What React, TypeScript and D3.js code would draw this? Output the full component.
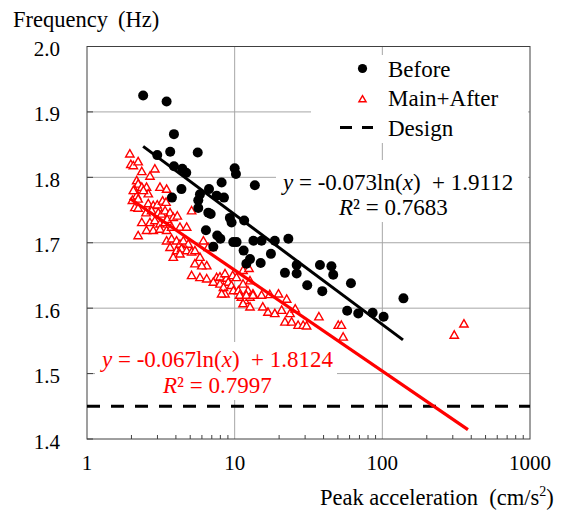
import React from "react";
import * as d3 from "d3";

// peak acceleration (cm/s2), frequency (Hz)
const before: [number, number][] = [
  [2.4, 1.925], [3.46, 1.916], [3.88, 1.866], [2.99, 1.834], [3.66, 1.839],
  [5.62, 1.838], [3.88, 1.817], [4.42, 1.813], [4.7, 1.807], [4.36, 1.782],
  [3.76, 1.769], [5.82, 1.774], [6.7, 1.782], [8.16, 1.792], [7.55, 1.772],
  [10.0, 1.814], [10.2, 1.805], [13.7, 1.788], [5.67, 1.765], [8.46, 1.769],
  [5.67, 1.753], [6.63, 1.746], [6.88, 1.744], [9.28, 1.738], [9.53, 1.731],
  [11.6, 1.734], [6.39, 1.719], [7.62, 1.711], [8.0, 1.706], [9.78, 1.701],
  [10.3, 1.701], [13.4, 1.703], [15.2, 1.703], [18.7, 1.703], [23.1, 1.706],
  [7.17, 1.694], [11.5, 1.688], [17.6, 1.683], [12.7, 1.675], [12.0, 1.668],
  [15.0, 1.669], [21.9, 1.654], [26.3, 1.666], [26.3, 1.653], [37.8, 1.666],
  [45.2, 1.664], [46.5, 1.651], [61.3, 1.638], [31.0, 1.635], [39.2, 1.626],
  [139, 1.615], [57.8, 1.596], [68.7, 1.592], [86.0, 1.593], [102, 1.587],
];

const mainAfter: [number, number][] = [
  [1.95, 1.836], [1.98, 1.82], [2.06, 1.818], [2.22, 1.824], [2.35, 1.809],
  [2.88, 1.813], [2.67, 1.802], [2.17, 1.795], [2.22, 1.79], [2.35, 1.785],
  [2.53, 1.785], [2.6, 1.775], [2.11, 1.78], [2.17, 1.772], [3.12, 1.785],
  [3.46, 1.782], [2.06, 1.78], [2.41, 1.78], [2.03, 1.765], [2.22, 1.767],
  [2.11, 1.754], [2.22, 1.753], [2.6, 1.76], [2.81, 1.757], [2.99, 1.758],
  [3.25, 1.764], [3.43, 1.762], [2.51, 1.746], [2.74, 1.749], [3.04, 1.746],
  [3.2, 1.744], [3.38, 1.749], [3.65, 1.746], [2.35, 1.731], [2.67, 1.731],
  [2.88, 1.734], [3.12, 1.729], [3.38, 1.731], [3.49, 1.736], [3.84, 1.739],
  [4.09, 1.741], [2.53, 1.719], [2.81, 1.719], [3.12, 1.721], [3.46, 1.719],
  [3.74, 1.724], [4.26, 1.724], [4.73, 1.724], [2.22, 1.711], [3.46, 1.703],
  [3.74, 1.706], [4.04, 1.703], [4.26, 1.698], [4.49, 1.703], [4.85, 1.698],
  [3.65, 1.693], [4.04, 1.688], [4.36, 1.691], [4.73, 1.688], [5.11, 1.686],
  [3.84, 1.678], [4.26, 1.683], [5.38, 1.688], [5.82, 1.678], [5.38, 1.668],
  [6.47, 1.665], [5.99, 1.665], [6.98, 1.693], [6.14, 1.703], [6.6, 1.693],
  [5.11, 1.749], [5.11, 1.65], [5.82, 1.647], [6.47, 1.645], [7.55, 1.647],
  [7.95, 1.648], [8.82, 1.646], [7.17, 1.64], [7.95, 1.637], [9.05, 1.64],
  [8.4, 1.632], [8.6, 1.622], [9.5, 1.635], [9.8, 1.627], [10.6, 1.627],
  [11.4, 1.637], [12.3, 1.627], [12.7, 1.642], [11.1, 1.617], [11.7, 1.612],
  [12.7, 1.617], [13.3, 1.622], [11.4, 1.607], [12.7, 1.602], [8.16, 1.622],
  [8.6, 1.653], [9.7, 1.65], [11.4, 1.658], [12.5, 1.661], [10.3, 1.647],
  [10.8, 1.62], [12.0, 1.62], [13.3, 1.62], [15.2, 1.62], [17.3, 1.621],
  [19.8, 1.622], [22.5, 1.614], [16.8, 1.594], [18.7, 1.592], [20.8, 1.597],
  [23.7, 1.592], [25.7, 1.599], [15.5, 1.602], [21.9, 1.579], [24.3, 1.579],
  [26.9, 1.574], [29.1, 1.574], [30.7, 1.573], [37.2, 1.587], [50.3, 1.574],
  [52.8, 1.574], [54.3, 1.556], [357, 1.576], [307, 1.559],
];

// y = slope * ln(x) + icpt, drawn between x0 and x1
const fitBefore = { slope: -0.073, icpt: 1.9112, x0: 2.4, x1: 138 };
const fitAfter = { slope: -0.067, icpt: 1.8124, x0: 1.95, x1: 380 };
const designFreq = 1.45;

const xTicks = [1, 10, 100, 1000];
const yTicks = [1.4, 1.5, 1.6, 1.7, 1.8, 1.9, 2.0];
const legendLabels = ["Before", "Main+After", "Design"];

const RED = "#ff0000";
const FONT = "'Liberation Serif', 'Times New Roman', serif";
const pre = { whiteSpace: "pre" as const };

export default function App() {
  const width = 562;
  const height = 510;
  const left = 87, right = 530, top = 46.5, bottom = 439;

  const x = d3.scaleLog().domain([1, 1000]).range([left, right]);
  const y = d3.scaleLinear().domain([1.4, 2.0]).range([bottom, top]);

  const fitLine = (f) =>
    d3.line<number>()
      .x((d) => x(d))
      .y((d) => y(f.slope * Math.log(d) + f.icpt))([f.x0, f.x1]);

  const minor = x.ticks().filter((t) => !xTicks.includes(t));
  const tri = "M0,-4.2 L4.2,3.2 L-4.2,3.2 Z";

  return (
    <svg
      width={width}
      height={height}
      style={{ position: "absolute", left: 0, top: 0, background: "#fff" }}
      fontFamily={FONT}
    >
      {/* grid */}
      {xTicks.slice(1, -1).map((t) => (
        <line key={"gx" + t} x1={x(t)} x2={x(t)} y1={top} y2={bottom} stroke="#a6a6a6" />
      ))}
      {yTicks.slice(1, -1).map((t) => (
        <line key={"gy" + t} x1={left} x2={right} y1={y(t)} y2={y(t)} stroke="#a6a6a6" />
      ))}

      {/* white boxes behind texts */}
      <rect x={311} y={55} width={217} height={88} fill="#fff" />
      <rect x={276} y={160} width={252} height={62} fill="#fff" />
      <rect x={95} y={342} width={242} height={58} fill="#fff" />

      {/* ticks */}
      {minor.map((t) => (
        <line key={"mx" + t} x1={x(t)} x2={x(t)} y1={bottom} y2={bottom - 4} stroke="#404040" />
      ))}
      {yTicks.map((t) => (
        <line key={"ty" + t} x1={left} x2={left + 6} y1={y(t)} y2={y(t)} stroke="#404040" />
      ))}
      <rect x={left} y={top} width={right - left} height={bottom - top} fill="none" stroke="#404040" />

      {/* design line */}
      <line x1={left} x2={right} y1={y(designFreq)} y2={y(designFreq)}
        stroke="#000" strokeWidth={3} strokeDasharray="13 11" />

      {/* data */}
      {mainAfter.map((d, i) => (
        <path key={"a" + i} d={tri} transform={`translate(${x(d[0])},${y(d[1])})`}
          fill="#fff" stroke={RED} strokeWidth={1.4} />
      ))}
      {before.map((d, i) => (
        <circle key={"b" + i} cx={x(d[0])} cy={y(d[1])} r={5} fill="#000" />
      ))}

      <path d={fitLine(fitAfter)} stroke={RED} strokeWidth={3.2} fill="none" />
      <path d={fitLine(fitBefore)} stroke="#000" strokeWidth={3} fill="none" />

      {/* equations */}
      <text x={283} y={190} fontSize={23} style={pre}>
        <tspan fontStyle="italic">y</tspan>{" = -0.073ln("}<tspan fontStyle="italic">x</tspan>{")  + 1.9112"}
      </text>
      <text x={339} y={215} fontSize={23} style={pre}>
        <tspan fontStyle="italic">R</tspan>{"² = 0.7683"}
      </text>
      <text x={102} y={367} fontSize={23} fill={RED} style={pre}>
        <tspan fontStyle="italic">y</tspan>{" = -0.067ln("}<tspan fontStyle="italic">x</tspan>{")  + 1.8124"}
      </text>
      <text x={163} y={393} fontSize={23} fill={RED} style={pre}>
        <tspan fontStyle="italic">R</tspan>{"² = 0.7997"}
      </text>

      {/* legend */}
      <circle cx={362.5} cy={68.5} r={4.6} fill="#000" />
      <path d="M0,-3.4 L3.6,2.8 L-3.6,2.8 Z" transform="translate(362.5,99)" fill="#fff" stroke={RED} strokeWidth={1.4} />
      <line x1={340} x2={373} y1={127.5} y2={127.5} stroke="#000" strokeWidth={3} strokeDasharray="12 10" />
      {legendLabels.map((s, i) => (
        <text key={s} x={388} y={76.5 + i * 29.5} fontSize={23}>{s}</text>
      ))}

      {/* axis labels */}
      {yTicks.map((t) => (
        <text key={"ly" + t} x={60} y={y(t) + 9.5} fontSize={21} textAnchor="end">{t.toFixed(1)}</text>
      ))}
      {xTicks.map((t) => (
        <text key={"lx" + t} x={x(t)} y={470} fontSize={21} textAnchor="middle">{t}</text>
      ))}
      <text x={13} y={27} fontSize={22.5}>
        Frequency<tspan x={118}>(Hz)</tspan>
      </text>
      <text x={320} y={505} fontSize={22.5} style={pre}>
        {"Peak acceleration  (cm/s"}<tspan fontSize={14} dy={-9}>2</tspan><tspan dy={9}>)</tspan>
      </text>
    </svg>
  );
}
